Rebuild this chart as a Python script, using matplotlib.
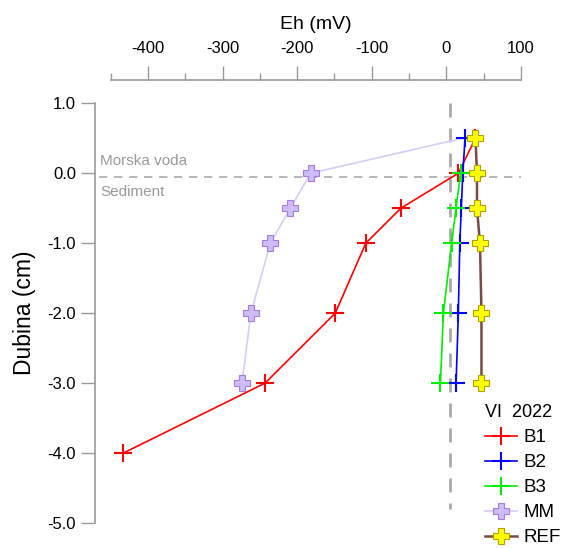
import matplotlib
matplotlib.use("Agg")
import matplotlib.pyplot as plt
from matplotlib.ticker import MultipleLocator, FormatStrFormatter

plt.rcParams['font.family'] = ['Liberation Sans', 'DejaVu Sans']
plt.rcParams['axes.unicode_minus'] = False

# depth (cm) and Eh (mV) per station
b1_depth = [0.5, 0.0, -0.5, -1.0, -2.0, -3.0, -4.0]
b1_eh = [39, 16, -61, -108, -149, -243, -433]
b2_depth = [0.5, 0.0, -0.5, -1.0, -2.0, -3.0]
b2_eh = [25, 22, 20, 18, 16, 13]
b3_depth = [0.0, -0.5, -1.0, -2.0, -3.0]
b3_eh = [19, 13, 7, -4, -8]
mm_depth = [0.5, 0.0, -0.5, -1.0, -2.0, -3.0]
mm_eh = [22, -182, -209, -236, -262, -274]
ref_depth = [0.5, 0.0, -0.5, -1.0, -2.0, -3.0]
ref_eh = [39, 41, 41, 45, 47, 47]

fig = plt.figure(figsize=(5.63, 5.48), dpi=100)
ax = fig.add_axes([0.1966, 0.0456, 0.7288, 0.766])
ax.set_xlim(-450, 100)
ax.set_ylim(-5.0, 1.0)

# reference lines: sediment surface and Eh = 0
ax.plot([-465, 100], [-0.05, -0.05], color='#aaaaaa', ls=(0, (5, 4)), lw=1.2,
        zorder=1, clip_on=False)
ax.plot([5, 5], [1.0, -4.8], color='#aaaaaa', ls=(0, (5, 4)), lw=2, zorder=1)
ax.text(-464, 0.08, 'Morska voda', color='#999999', fontsize=11, va='bottom')
ax.text(-464, -0.17, 'Sediment', color='#999999', fontsize=11, va='top')

ax.plot(b1_eh, b1_depth, color='#ff0000', lw=1.2, marker='+', ms=13, mew=1.5, label='B1', zorder=3)
ax.plot(b2_eh, b2_depth, color='#0000ff', lw=1.2, marker='+', ms=13, mew=1.5, label='B2', zorder=3)
ax.plot(b3_eh, b3_depth, color='#00ee00', lw=1.2, marker='+', ms=13, mew=1.5, label='B3', zorder=3)
ax.plot(mm_eh, mm_depth, color='#d0d0f8', lw=1.2, marker='P', ms=12, mfc='#ccbbf5',
        mec='#a77be0', mew=0.8, markevery=[1, 2, 3, 4, 5], label='MM', zorder=2)
ax.plot(ref_eh, ref_depth, color='#7a4a42', lw=1.8, marker='P', ms=12, mfc='#ffff00',
        mec='#b0a000', mew=0.8, label='REF', zorder=4)

for s in ['right', 'bottom']:
    ax.spines[s].set_visible(False)
ax.spines['top'].set_position(('outward', 17))
ax.spines['left'].set_position(('outward', 11))
ax.spines['top'].set_color('#999999')
ax.spines['left'].set_color('#999999')
ax.spines['top'].set_linewidth(1.2)
ax.spines['left'].set_linewidth(1.2)

ax.xaxis.tick_top()
ax.xaxis.set_label_position('top')
ax.xaxis.set_major_locator(MultipleLocator(100))
ax.xaxis.set_minor_locator(MultipleLocator(50))
ax.yaxis.set_major_locator(MultipleLocator(1.0))
ax.yaxis.set_major_formatter(FormatStrFormatter('%.1f'))
ax.tick_params(axis='x', which='major', length=10, width=1, color='#999999', labelsize=12, pad=7)
ax.tick_params(axis='x', which='minor', length=5, width=1, color='#999999')
ax.tick_params(axis='y', which='major', length=10, width=1, color='#999999', labelsize=12, pad=4)

ax.set_xlabel('Eh (mV)', fontsize=14, labelpad=9)
ax.set_ylabel('Dubina (cm)', fontsize=16.5, labelpad=8)

leg = ax.legend(title='VI  2022', loc='upper left', bbox_to_anchor=(0.831, 0.293),
                bbox_transform=fig.transFigure, frameon=False, borderpad=0.4,
                fontsize=13.5, title_fontsize=13, handlelength=1.7, handletextpad=0.35,
                labelspacing=0.42, alignment='left')

fig.savefig('out.png', dpi=100)
